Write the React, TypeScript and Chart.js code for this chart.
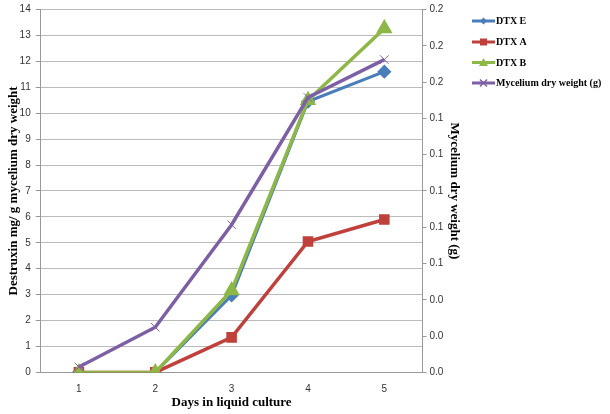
import React, { useEffect, useRef } from "react";
import { Chart, registerables } from "chart.js";

Chart.register(...registerables);

const days = ["1", "2", "3", "4", "5"];
const dtxE = [0, 0, 2.97, 10.45, 11.6];
const dtxA = [0, 0, 1.35, 5.05, 5.9];
const dtxB = [0, 0, 3.16, 10.5, 13.27];
const myceliumWeight = [0.003, 0.0249, 0.0814, 0.1515, 0.1724];

const BLUE = "#4A7EBB";
const RED = "#C0403C";
const GREEN = "#8DB848";
const PURPLE = "#7D5FA5";

const tickFont = { family: "'Liberation Sans', Arial, sans-serif", size: 10 };
const titleFont = { family: "'Liberation Serif', 'Times New Roman', serif", size: 13, weight: "bold" as const };

const legendPlugin = {
  id: "excelLegend",
  afterDraw(chart: any) {
    const ctx = chart.ctx;
    const x0 = 472;
    const lineW = 23;
    const ys = [21, 42, 62.5, 83];
    chart.data.datasets.forEach((ds: any, i: number) => {
      const y = ys[i];
      ctx.save();
      ctx.strokeStyle = ds.borderColor;
      ctx.lineWidth = 3;
      ctx.beginPath();
      ctx.moveTo(x0, y);
      ctx.lineTo(x0 + lineW, y);
      ctx.stroke();
      ctx.fillStyle = ds.pointBackgroundColor;
      ctx.strokeStyle = ds.pointBorderColor;
      ctx.lineWidth = 1.5;
      const cx = x0 + lineW / 2;
      const r = 3.5;
      ctx.beginPath();
      if (ds.pointStyle === "rectRot") {
        ctx.moveTo(cx, y - r);
        ctx.lineTo(cx + r, y);
        ctx.lineTo(cx, y + r);
        ctx.lineTo(cx - r, y);
        ctx.closePath();
        ctx.fill();
      } else if (ds.pointStyle === "rect") {
        ctx.rect(cx - r, y - r, 2 * r, 2 * r);
        ctx.fill();
      } else if (ds.pointStyle === "triangle") {
        ctx.moveTo(cx, y - r - 1);
        ctx.lineTo(cx + r + 1, y + r);
        ctx.lineTo(cx - r - 1, y + r);
        ctx.closePath();
        ctx.fill();
      } else {
        ctx.moveTo(cx - r, y - r);
        ctx.lineTo(cx + r, y + r);
        ctx.moveTo(cx + r, y - r);
        ctx.lineTo(cx - r, y + r);
        ctx.stroke();
      }
      ctx.fillStyle = "#000";
      ctx.font = "bold 10px 'Liberation Serif', 'Times New Roman', serif";
      ctx.textAlign = "left";
      ctx.textBaseline = "middle";
      ctx.fillText(ds.label, x0 + lineW + 1, y + 0.5);
      ctx.restore();
    });
  },
};

const trimTop = (scale: any) => {
  scale.paddingTop = 4;
};

export default function App() {
  const ref = useRef<HTMLCanvasElement>(null);
  useEffect(() => {
    if (!ref.current) return;
    const chart = new Chart(ref.current, {
      type: "line",
      data: {
        labels: days,
        datasets: [
          {
            label: "DTX E",
            data: dtxE,
            yAxisID: "y",
            borderColor: BLUE,
            backgroundColor: BLUE,
            pointBackgroundColor: BLUE,
            pointBorderColor: BLUE,
            pointStyle: "rectRot",
            pointRadius: 5,
            borderWidth: 3,
            order: 4,
          },
          {
            label: "DTX A",
            data: dtxA,
            yAxisID: "y",
            borderColor: RED,
            backgroundColor: RED,
            pointBackgroundColor: RED,
            pointBorderColor: RED,
            pointStyle: "rect",
            pointRadius: 5,
            borderWidth: 3.5,
            order: 3,
          },
          {
            label: "DTX B",
            data: dtxB,
            yAxisID: "y",
            borderColor: GREEN,
            backgroundColor: GREEN,
            pointBackgroundColor: GREEN,
            pointBorderColor: GREEN,
            pointStyle: "triangle",
            pointRadius: 6,
            borderWidth: 3.5,
            order: 2,
          },
          {
            label: "Mycelium dry weight (g)",
            data: myceliumWeight,
            yAxisID: "y1",
            borderColor: PURPLE,
            backgroundColor: PURPLE,
            pointBackgroundColor: PURPLE,
            pointBorderColor: PURPLE,
            pointStyle: "crossRot",
            pointRadius: 6,
            pointBorderWidth: 1,
            borderWidth: 3.5,
            order: 1,
          },
        ],
      },
      options: {
        animation: false,
        responsive: false,
        layout: { padding: { left: 6, right: 144, top: 0, bottom: 4 } },
        plugins: {
          legend: { display: false },
          tooltip: { enabled: false },
        },
        scales: {
          x: {
            type: "category",
            offset: true,
            grid: { display: false, drawTicks: false, tickLength: 0 },
            border: { color: "#999" },
            ticks: { font: tickFont, color: "#333", padding: 11 },
            title: { display: true, text: "Days in liquid culture", font: titleFont, color: "#000", padding: { top: -12, bottom: 0 } },
          },
          y: {
            position: "left",
            min: 0,
            max: 14,
            afterFit: trimTop,
            ticks: { stepSize: 1, font: tickFont, color: "#333", padding: 5 },
            grid: { color: "#BBBBBB", lineWidth: 1, tickLength: 5, tickColor: "#999" },
            border: { color: "#999" },
            title: { display: true, text: "Destruxin mg/ g mycelium dry weight", font: titleFont, color: "#000", padding: { top: 0, bottom: -7 } },
          },
          y1: {
            position: "right",
            min: 0,
            max: 0.2,
            afterFit: trimTop,
            ticks: {
              stepSize: 0.02,
              font: tickFont,
              color: "#333",
              padding: 3,
              callback: (v: any) => Number(v).toFixed(1),
            },
            grid: { drawOnChartArea: false, tickLength: 4, tickColor: "#999" },
            border: { color: "#999" },
            title: { display: true, text: "Mycelium dry weight (g)", font: titleFont, color: "#000", padding: { top: 4, bottom: 0 } },
          },
        },
      },
      plugins: [legendPlugin],
    });
    return () => chart.destroy();
  }, []);
  return (
    <div style={{ position: "absolute", left: 0, top: 0, width: 610, height: 414, background: "#fff" }}>
      <canvas ref={ref} width={610} height={414} style={{ width: 610, height: 414 }} />
    </div>
  );
}
